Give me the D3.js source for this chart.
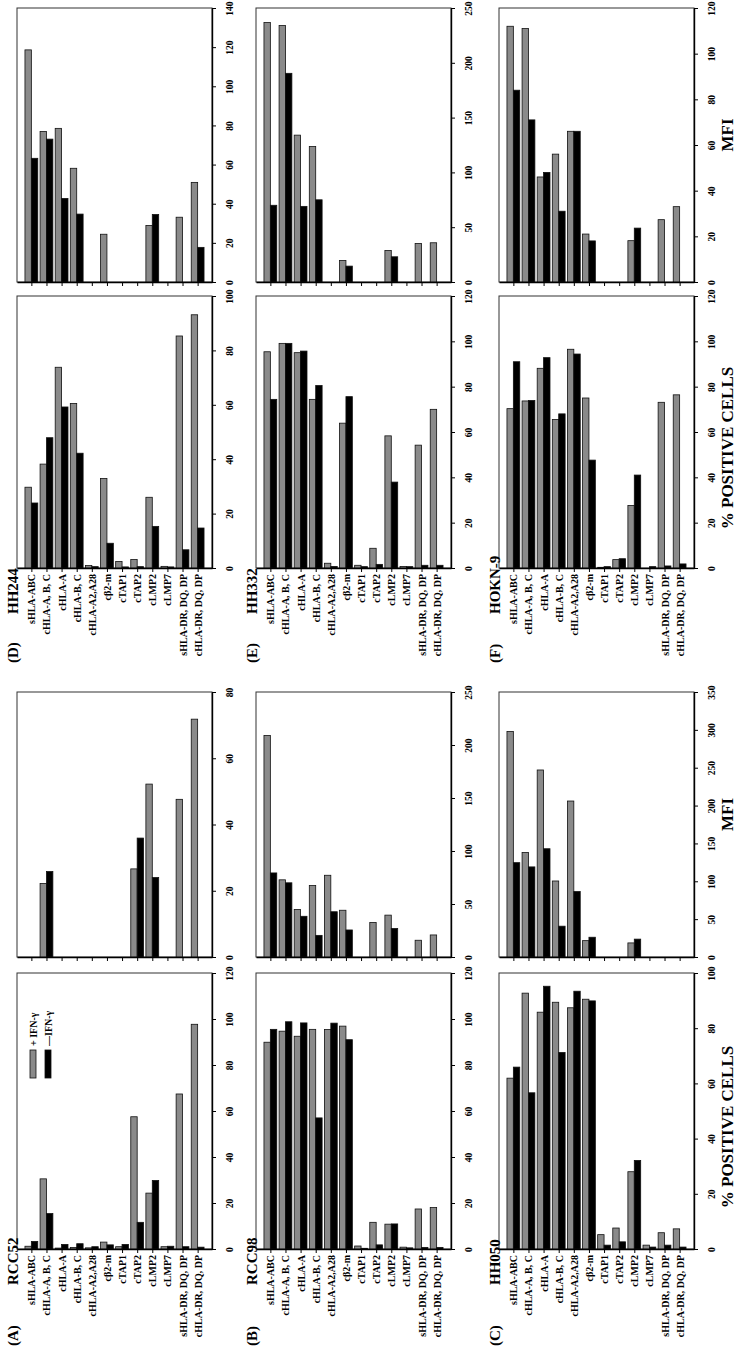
<!DOCTYPE html>
<html><head><meta charset="utf-8">
<script src="https://cdn.jsdelivr.net/npm/d3@7"></script>
<style>
body{margin:0;background:#fff}
svg{display:block}
text{font-family:"Liberation Serif","Times New Roman",serif;font-weight:bold;fill:#000}
</style>
</head><body>
<svg id="chart" width="740" height="1358"></svg>
<script>
const categories = ["sHLA-ABC","cHLA-A, B, C","cHLA-A","cHLA-B, C","cHLA-A2,A28","cβ2-m","cTAP1","cTAP2","cLMP2","cLMP7","sHLA-DR, DQ, DP","cHLA-DR, DQ, DP"];
const seriesNames = ["+ IFN-γ","—IFN-γ"];

// (A) RCC52
const pctPlusA  = [1.2, 30.5, 0.4, 0.7, 0.5, 3.0, 1.0, 57.5, 24.3, 1.0, 67.4, 97.7];
const pctMinusA = [3.3, 15.4, 2.0, 2.3, 1.0, 1.8, 2.0, 11.6, 29.8, 1.2, 1.0, 0.8];
const mfiPlusA  = [null, 22.2, null, null, null, null, null, 26.6, 52.2, null, 47.6, 71.8];
const mfiMinusA = [null, 25.8, null, null, null, null, null, 35.9, 24.0, null, null, null];
// (B) RCC98
const pctPlusB  = [89.9, 94.7, 92.5, 95.5, 95.4, 96.9, 1.3, 11.6, 10.8, 0.8, 17.4, 18.0];
const pctMinusB = [95.5, 98.8, 98.3, 57.0, 98.2, 91.0, 0.3, 1.8, 10.9, 0.5, 0.7, 0.7];
const mfiPlusB  = [209, 72.8, 44.8, 67.4, 77.1, 44.1, null, 32.6, 39.5, null, 15.8, 20.8];
const mfiMinusB = [79.3, 70.0, 38.4, 20.4, 42.7, 25.5, null, null, 26.9, null, null, null];
// (C) HH050
const pctPlusC  = [61.9, 92.7, 85.8, 89.4, 87.4, 90.5, 5.2, 7.6, 28.0, 1.4, 5.9, 7.3];
const pctMinusC = [65.9, 56.6, 95.2, 71.2, 93.4, 89.9, 1.4, 2.6, 32.1, 0.7, 1.4, 0.7];
const mfiPlusC  = [297.8, 138, 247, 100.4, 206, 21.6, null, null, 18.6, null, null, null];
const mfiMinusC = [124.6, 119, 143, 40.7, 86.4, 26.1, null, null, 23.6, null, null, null];
// (D) HH244
const pctPlusD  = [29.7, 38.2, 73.8, 60.5, 0.9, 32.9, 2.4, 3.1, 26.0, 0.6, 85.3, 93.1];
const pctMinusD = [23.9, 47.9, 59.2, 42.2, 0.5, 9.1, 0.4, 0.5, 15.3, 0.4, 6.7, 14.7];
const mfiPlusD  = [118.6, 76.9, 78.5, 58.1, null, 24.4, null, null, 28.9, null, 33.1, 50.9];
const mfiMinusD = [63.2, 73.0, 42.7, 34.7, null, null, null, null, 34.5, null, null, 17.7];
// (E) HH332
const pctPlusE  = [95.4, 99.1, 95.0, 74.4, 2.1, 63.9, 1.2, 8.7, 58.3, 0.7, 54.2, 70.0];
const pctMinusE = [74.4, 99.1, 95.7, 80.5, 0.7, 75.6, 0.6, 1.6, 37.9, 0.6, 1.2, 1.2];
const mfiPlusE  = [236.7, 234, 134, 123.6, null, 19.7, null, null, 28.8, null, 35.2, 35.8];
const mfiMinusE = [70, 190.4, 69, 75, null, 14.5, null, null, 23, null, null, null];
// (F) HOKN-9
const pctPlusF  = [70.3, 73.7, 88.1, 65.5, 96.5, 75.0, 0.3, 3.7, 27.6, null, 73.1, 76.4];
const pctMinusF = [91.0, 73.9, 92.8, 68.0, 94.4, 47.6, 0.6, 4.1, 41.0, 0.6, 0.9, 1.8];
const mfiPlusF  = [112, 111, 46, 56, 66, 21, null, null, 18.1, null, 27.3, 33];
const mfiMinusF = [84, 71, 48, 31, 66, 18, null, null, 23.6, null, null, null];

// tick labels
const ticks0to80  = [0,20,40,60,80];
const ticks0to100 = [0,20,40,60,80,100];
const ticks0to120 = [0,20,40,60,80,100,120];
const ticks0to140 = [0,20,40,60,80,100,120,140];
const ticks0to250 = [0,50,100,150,200,250];
const ticks0to350 = [0,50,100,150,200,250,300,350];

const panelLetters = ["(A)","(B)","(C)","(D)","(E)","(F)"];
const panelNames = ["RCC52","RCC98","HH050","HH244","HH332","HOKN-9"];

const panels = [
  {col:0,row:1,pP:pctPlusA,pM:pctMinusA,mP:mfiPlusA,mM:mfiMinusA,pT:ticks0to120,mT:ticks0to80},
  {col:1,row:1,pP:pctPlusB,pM:pctMinusB,mP:mfiPlusB,mM:mfiMinusB,pT:ticks0to120,mT:ticks0to250},
  {col:2,row:1,pP:pctPlusC,pM:pctMinusC,mP:mfiPlusC,mM:mfiMinusC,pT:ticks0to100,mT:ticks0to350},
  {col:0,row:0,pP:pctPlusD,pM:pctMinusD,mP:mfiPlusD,mM:mfiMinusD,pT:ticks0to100,mT:ticks0to140},
  {col:1,row:0,pP:pctPlusE,pM:pctMinusE,mP:mfiPlusE,mM:mfiMinusE,pT:ticks0to120,mT:ticks0to250},
  {col:2,row:0,pP:pctPlusF,pM:pctMinusF,mP:mfiPlusF,mM:mfiMinusF,pT:ticks0to120,mT:ticks0to120}
];

// layout
const colLeft = [17, 256, 499];
const boxW = 195;
const rowGeom = [
  {mfi:[8,282], pct:[296,568], letterY:663, nameY:614},
  {mfi:[692,957], pct:[973,1249], letterY:1346, nameY:1285}
];
const GRAY = "#8a8a8a";
const svg = d3.select("#chart");

function drawBox(x0, top, base, ticks, plus, minus, showLabels) {
  const g = svg.append("g");
  const x = d3.scalePoint().domain(categories).range([x0, x0 + boxW]).padding(0.95);
  const y = d3.scaleLinear().domain([0, d3.max(ticks)]).range([base, top]);
  const sub = d3.scaleBand().domain(["plus","minus"]).range([-6.4, 6.4]);

  g.append("rect").attr("x", x0).attr("y", top).attr("width", boxW).attr("height", base - top)
    .attr("fill", "#fff").attr("stroke", "#333").attr("stroke-width", 1);

  const series = [{k:"plus", v:plus, fill:GRAY}, {k:"minus", v:minus, fill:"#000"}];
  series.forEach(s => {
    const data = categories.map((c, i) => ({c, v: s.v[i]})).filter(d => d.v != null);
    g.selectAll(null).data(data).join("rect")
      .attr("x", d => x(d.c) + sub(s.k))
      .attr("y", d => y(d.v))
      .attr("width", sub.bandwidth())
      .attr("height", d => base - y(d.v))
      .attr("fill", s.fill)
      .attr("stroke", "#111")
      .attr("stroke-width", 0.8);
  });

  const ax = g.append("g").attr("transform", `translate(0,${base})`)
    .call(d3.axisBottom(x).tickSize(4).tickSizeOuter(0).tickFormat(showLabels ? (d => d) : () => ""));
  ax.select(".domain").attr("stroke", "#000").attr("stroke-width", 1.4);
  ax.selectAll(".tick line").attr("stroke", "#000");
  ax.selectAll("text")
    .attr("y", null).attr("dy", "0.35em")
    .attr("transform", "translate(0,6) rotate(-90)")
    .attr("text-anchor", "end")
    .style("font-size", "10px");

  const ay = g.append("g").attr("transform", `translate(${x0 + boxW},0)`)
    .call(d3.axisRight(y).tickValues(ticks).tickSize(4).tickSizeOuter(0));
  ay.select(".domain").attr("stroke", "#000").attr("stroke-width", 1.4);
  ay.selectAll(".tick line").attr("stroke", "#000");
  ay.selectAll("text")
    .attr("x", null).attr("dy", "0.35em")
    .attr("transform", "translate(18,0) rotate(-90)")
    .attr("text-anchor", "middle")
    .style("font-size", "9.5px");
  return {x, y};
}

panels.forEach((p, i) => {
  const x0 = colLeft[p.col];
  const r = rowGeom[p.row];
  drawBox(x0, r.mfi[0], r.mfi[1], p.mT, p.mP, p.mM, false);
  drawBox(x0, r.pct[0], r.pct[1], p.pT, p.pP, p.pM, true);
  const tx = x0 - 4;
  svg.append("text").text(panelLetters[i])
    .attr("transform", `translate(${tx},${r.letterY}) rotate(-90)`)
    .attr("dy", "0.35em").attr("text-anchor", "start").style("font-size", "15px");
  svg.append("text").text(panelNames[i])
    .attr("transform", `translate(${tx},${r.nameY}) rotate(-90)`)
    .attr("dy", "0.35em").attr("text-anchor", "start").style("font-size", "15px");
  if (p.col === 2) {
    svg.append("text").text("MFI")
      .attr("transform", `translate(727,${(r.mfi[0] + r.mfi[1]) / 2 - 10}) rotate(-90)`)
      .attr("dy", "0.35em").attr("text-anchor", "middle").style("font-size", "17px");
    svg.append("text").text("% POSITIVE CELLS")
      .attr("transform", `translate(727,${(r.pct[0] + r.pct[1]) / 2 + 16}) rotate(-90)`)
      .attr("dy", "0.35em").attr("text-anchor", "middle").style("font-size", "17px");
  }
});

// legend (inside panel A % box)
const legend = svg.append("g");
const legendItems = [{name: seriesNames[0], fill: GRAY, x: 33}, {name: seriesNames[1], fill: "#000", x: 48}];
legendItems.forEach(d => {
  legend.append("rect").attr("x", d.x - 3).attr("y", 1050).attr("width", 6).attr("height", 28)
    .attr("fill", d.fill).attr("stroke", "#111").attr("stroke-width", 0.8);
  legend.append("text").text(d.name)
    .attr("transform", `translate(${d.x},1046) rotate(-90)`)
    .attr("dy", "0.35em").attr("text-anchor", "start").style("font-size", "10px");
});
</script>
</body></html>
